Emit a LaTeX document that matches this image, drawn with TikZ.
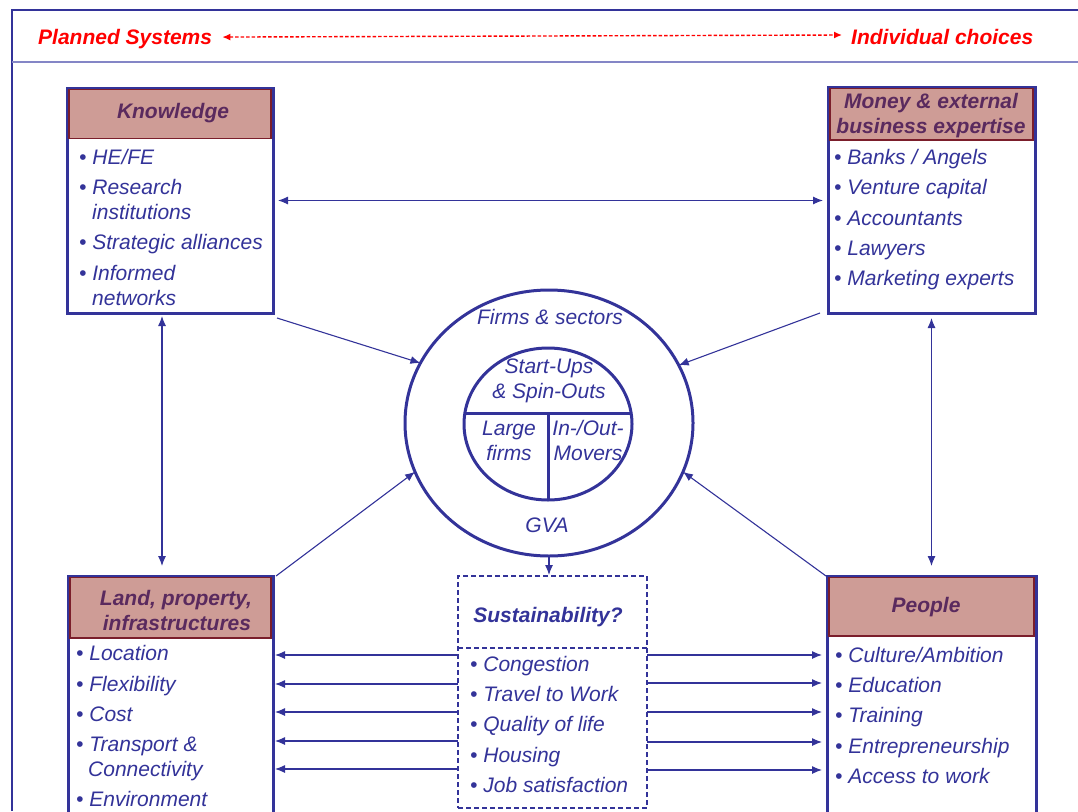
\documentclass[tikz,border=0pt]{standalone}
\usepackage{fontspec}
\setmainfont{Liberation Sans}
\usetikzlibrary{arrows.meta,shapes.geometric}

\definecolor{navy}{HTML}{333399}
\definecolor{plum}{HTML}{5A2A5E}
\definecolor{rose}{HTML}{CE9C96}
\definecolor{wine}{HTML}{7B1E2B}
\definecolor{lav}{HTML}{8486C6}
\definecolor{alarm}{HTML}{FF0000}

\tikzset{
  box/.style={draw=navy, line width=3pt, fill=white, rectangle, inner sep=0pt, outer sep=0pt},
  headbox/.style={draw=wine, line width=1.3pt, fill=rose, rectangle, inner sep=0pt, outer sep=0pt},
  dashbox/.style={draw=navy, line width=1.2pt, dash pattern=on 5pt off 3pt, fill=white, rectangle, inner sep=0pt, outer sep=0pt},
  itm/.style={anchor=base west, inner sep=0pt, text=navy, font=\fontsize{21}{25}\selectfont\itshape},
  ctr/.style={anchor=base, inner sep=0pt, text=navy, font=\fontsize{21}{25}\selectfont\itshape},
  ttl/.style={anchor=base, inner sep=0pt, text=plum, font=\fontsize{21}{25}\selectfont\bfseries\itshape},
  redtxt/.style={anchor=base west, inner sep=0pt, text=alarm, font=\fontsize{21}{25}\selectfont\bfseries\itshape},
  ring/.style={draw=navy, line width=3pt, ellipse, inner sep=0pt, outer sep=0pt},
  link/.style={draw=navy, line width=1.1pt, -{Latex[length=10pt,width=8pt]}},
  duallink/.style={draw=navy, line width=1.1pt, {Latex[length=10pt,width=8pt]}-{Latex[length=10pt,width=8pt]}},
}

\begin{document}
\begin{tikzpicture}[x=1pt, y=-1pt]
\useasboundingbox (0,0) rectangle (1078,811);
\clip (0,0) rectangle (1078,811);

% frame and banner
\draw[navy, line width=1.2pt] (12,811) -- (12,10) -- (1078,10);
\draw[lav, line width=2.5pt] (12,62) -- (1078,62);
\node[redtxt] (ps) at (38,44.5) {Planned Systems};
\node[redtxt] (ic) at (851,44.5) {Individual choices};
\draw[alarm, line width=1.4pt, dash pattern=on 3.5pt off 2pt,
      {Latex[length=8pt,width=7pt]}-{Latex[length=8pt,width=7pt]}]
  ([xshift=10pt,yshift=2pt]ps.east) -- ([xshift=-9pt,yshift=2pt]ic.west);

% Knowledge
\node[box, minimum width=206pt, minimum height=225pt] (know) at (170,200.5) {};
\node[headbox, minimum width=202pt, minimum height=49pt] (knowhead) at (170,114) {};
\node[ttl] (knowt) at (173,118.5) {Knowledge};
\node[itm] (k1) at (79,164.5) {• HE/FE};
\node[itm] (k2) at (79,194.5) {• Research};
\node[itm] (k2b) at (92,219.5) {institutions};
\node[itm] (k3) at (79,249.5) {• Strategic alliances};
\node[itm] (k4) at (79,280.5) {• Informed};
\node[itm] (k4b) at (92,305.5) {networks};

% Money & external business expertise
\node[box, minimum width=207pt, minimum height=226pt] (money) at (931.5,200) {};
\node[headbox, minimum width=203pt, minimum height=51.5pt] (moneyhead) at (931.5,114.25) {};
\node[ttl] (moneyt1) at (931,108.5) {Money \& external};
\node[ttl] (moneyt2) at (931,133.5) {business expertise};
\node[itm] (m1) at (834,164.5) {• Banks / Angels};
\node[itm] (m2) at (834,194.5) {• Venture capital};
\node[itm] (m3) at (834,225.5) {• Accountants};
\node[itm] (m4) at (834,255.5) {• Lawyers};
\node[itm] (m5) at (834,285.5) {• Marketing experts};

% Land, property, infrastructures
\node[box, minimum width=205pt, minimum height=254pt] (land) at (170.5,703) {};
\node[headbox, minimum width=201pt, minimum height=60.5pt] (landhead) at (170.5,607.75) {};
\node[ttl] (landt1) at (176,605.5) {Land, property,};
\node[ttl] (landt2) at (177,630.5) {infrastructures};
\node[itm] (l1) at (76,660.5) {• Location};
\node[itm] (l2) at (76,691.5) {• Flexibility};
\node[itm] (l3) at (76,721.5) {• Cost};
\node[itm] (l4) at (76,751.5) {• Transport \&};
\node[itm] (l4b) at (88,776.5) {Connectivity};
\node[itm] (l5) at (76,806.5) {• Environment};

% People
\node[box, minimum width=209pt, minimum height=254pt] (people) at (931.5,703) {};
\node[headbox, minimum width=205pt, minimum height=58.5pt] (peoplehead) at (931.5,606.75) {};
\node[ttl] (peoplet) at (926,612.5) {People};
\node[itm] (p1) at (835,662.5) {• Culture/Ambition};
\node[itm] (p2) at (835,692.5) {• Education};
\node[itm] (p3) at (835,722.5) {• Training};
\node[itm] (p4) at (835,753.5) {• Entrepreneurship};
\node[itm] (p5) at (835,783.5) {• Access to work};

% Sustainability
\node[dashbox, minimum width=189pt, minimum height=232pt] (sust) at (552.5,692) {};
\draw[navy, line width=1.2pt, dash pattern=on 5pt off 3pt] (sust.west |- 0,648) -- (sust.east |- 0,648);
\node[ttl, text=navy] (sustt) at (548,622.5) {Sustainability?};
\node[itm] (s1) at (470,671.5) {• Congestion};
\node[itm] (s2) at (470,701.5) {• Travel to Work};
\node[itm] (s3) at (470,731.5) {• Quality of life};
\node[itm] (s4) at (470,762.5) {• Housing};
\node[itm] (s5) at (470,792.5) {• Job satisfaction};

% Firms & sectors
\node[ring, minimum width=288pt, minimum height=266pt] (firms) at (549,423) {};
\node[ring, minimum width=168pt, minimum height=152pt] (core) at (548,424) {};
\draw[navy, line width=3pt] (core.west |- 0,413) -- (core.east |- 0,413);
\draw[navy, line width=3pt] (core.south) -- (core.south |- 0,413);
\node[ctr] (firmst) at (550,324.5) {Firms \& sectors};
\node[ctr] (su1) at (549,373.5) {Start-Ups};
\node[ctr] (su2) at (549,398.5) {\& Spin-Outs};
\node[ctr] (lf1) at (509,435.5) {Large};
\node[ctr] (lf2) at (509,460.5) {firms};
\node[ctr] (mv1) at (588,435.5) {In-/Out-};
\node[ctr] (mv2) at (588,460.5) {Movers};
\node[ctr] (gva) at (547,532.5) {GVA};

% connectors between the four pillars
\draw[duallink, shorten <=5pt, shorten >=5pt] (know.east) -- (money.west |- know.east);
\draw[duallink, shorten <=3pt, shorten >=10pt] ([xshift=-8pt]know.south) -- ([xshift=-8.5pt]land.north);
\draw[duallink, shorten <=5pt, shorten >=10pt] (money.south) -- (people.north);

% pillars feeding the firms
\draw[link] ([shift={(4,5)}]know.south east) -- (firms.155);
\draw[link] ([shift={(-8,0)}]money.south west) -- (firms.24);
\draw[link] ([shift={(3,0)}]land.north east) -- (firms.200);
\draw[link] ([shift={(-1,0)}]people.north west) -- (firms.-20);
\draw[link, shorten >=1pt] (firms.south) -- (firms.south |- sust.north);

% sustainability effects
\foreach \yy in {655,684,712,741,769}
  \draw[link, shorten >=2pt] (sust.west |- 0,\yy) -- (land.east |- 0,\yy);
\foreach \yy in {655,683,712,742,770}
  \draw[link, shorten >=5pt] (sust.east |- 0,\yy) -- (people.west |- 0,\yy);
\end{tikzpicture}
\end{document}
